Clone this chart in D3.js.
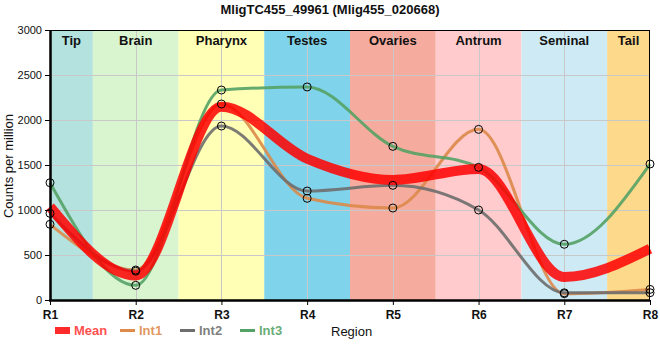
<!DOCTYPE html>
<html><head><meta charset="utf-8">
<script src="https://cdn.jsdelivr.net/npm/d3@7"></script>
<style>body{margin:0;background:#fff}svg{display:block;font-family:"Liberation Sans",Arial,sans-serif}</style>
</head><body>
<svg id="c" width="660" height="360"></svg>
<script>
const regions = ["R1","R2","R3","R4","R5","R6","R7","R8"];
const tissues = ["Tip","Brain","Pharynx","Testes","Ovaries","Antrum","Seminal","Tail"];
const tissueColors = ["#b4e2de","#d8f5cf","#ffffb5","#7fd3ea","#f5ab9d","#ffcbcc","#ceebf5","#fdd98b"];
const int1 = [841, 333, 2178, 1130, 1022, 1896, 70, 118];
const int2 = [963, 320, 1933, 1211, 1274, 1000, 80, 81];
const int3 = [1303, 163, 2333, 2367, 1707, 1474, 619, 1511];
const meanVals = regions.map((r,i)=> (int1[i]+int2[i]+int3[i])/3);
const yTicks = [0,500,1000,1500,2000,2500,3000];
const title = "MligTC455_49961 (Mlig455_020668)";

const svg = d3.select("#c");
const L=50,R=650,T=30,B=300;
const x = d3.scalePoint().domain(regions).range([L,R]);
const y = d3.scaleLinear().domain([0,3000]).range([B,T]);
const step = x.step();

// bands
svg.append("g").selectAll("rect").data(tissues).join("rect")
  .attr("x",(d,i)=>Math.max(L,x(regions[i])-step/2))
  .attr("width",(d,i)=>Math.min(R,x(regions[i])+step/2)-Math.max(L,x(regions[i])-step/2))
  .attr("y",T).attr("height",B-T)
  .attr("fill",(d,i)=>tissueColors[i]);

// grid
const g = svg.append("g").attr("stroke","#c8c8c8").attr("stroke-width",1);
g.selectAll("line.h").data(yTicks.slice(1)).join("line").attr("class","h")
  .attr("x1",L).attr("x2",R).attr("y1",d=>y(d)+0.5).attr("y2",d=>y(d)+0.5);
g.selectAll("line.v").data(regions.slice(1,-1)).join("line").attr("class","v")
  .attr("y1",T).attr("y2",B).attr("x1",d=>Math.round(x(d))+0.5).attr("x2",d=>Math.round(x(d))+0.5);

// band labels
svg.append("g").selectAll("text").data(tissues).join("text")
  .attr("x",(d,i)=>(Math.max(L,x(regions[i])-step/2)+Math.min(R,x(regions[i])+step/2))/2)
  .attr("y",45).attr("text-anchor","middle").attr("font-size",13).attr("font-weight","bold")
  .attr("fill","#111").text(d=>d);

const line = d3.line().x((d,i)=>x(regions[i])).y(d=>y(d)).curve(d3.curveMonotoneX);
const series = [
  {name:"Int1",vals:int1,color:"#dd8a4a"},
  {name:"Int2",vals:int2,color:"#6e6e6e"},
  {name:"Int3",vals:int3,color:"#55a266"}
];
series.forEach(s=>{
  svg.append("path").attr("d",line(s.vals)).attr("fill","none")
    .attr("stroke",s.color).attr("stroke-width",3).attr("stroke-opacity",0.9);
});
svg.append("path").attr("d",line(meanVals)).attr("fill","none")
  .attr("stroke","#ff0000").attr("stroke-width",10).attr("stroke-opacity",0.85);
series.forEach(s=>{
  svg.append("g").selectAll("circle").data(s.vals).join("circle")
    .attr("cx",(d,i)=>x(regions[i])).attr("cy",d=>y(d)).attr("r",4)
    .attr("fill","none").attr("stroke","#000").attr("stroke-width",1);
});

// frame
svg.append("line").attr("x1",L).attr("x2",R).attr("y1",T+0.5).attr("y2",T+0.5).attr("stroke","#000").attr("stroke-width",1);
svg.append("line").attr("x1",R-0.5).attr("x2",R-0.5).attr("y1",T).attr("y2",B).attr("stroke","#000").attr("stroke-width",1);

// axes
const ya = svg.append("g").attr("transform",`translate(${L},0)`)
  .call(d3.axisLeft(y).tickValues(yTicks).tickSize(5).tickSizeOuter(0).tickFormat(d3.format("d")));
ya.select(".domain").attr("stroke-width",2.5);
ya.selectAll("text").attr("font-size",11).attr("fill","#111").attr("font-family","Liberation Sans, Arial, sans-serif");
const xa = svg.append("g").attr("transform",`translate(0,${B})`)
  .call(d3.axisBottom(x).tickSize(5).tickSizeOuter(0));
xa.select(".domain").attr("stroke-width",2.5).attr("d",`M${L-1},0.5H${R}`);
xa.selectAll("text").attr("font-size",12).attr("font-weight","bold").attr("fill","#111").attr("dy","0.9em").attr("font-family","Liberation Sans, Arial, sans-serif");

// title
svg.append("text").attr("x",330).attr("y",14).attr("text-anchor","middle")
  .attr("font-size",13).attr("font-weight","bold").attr("fill","#111").text(title);
// y label
svg.append("text").attr("transform","translate(13,166) rotate(-90)").attr("text-anchor","middle")
  .attr("font-size",13).attr("fill","#111").text("Counts per million");

// legend
const lg = svg.append("g");
lg.append("rect").attr("x",55).attr("y",327).attr("width",15).attr("height",7).attr("fill","#ff2a2a");
lg.append("text").attr("x",74).attr("y",335).attr("font-size",13).attr("font-weight","bold").attr("fill","#ff5050").text("Mean");
const lx=[120,180,240];
series.forEach((s,i)=>{
  lg.append("line").attr("x1",lx[i]).attr("x2",lx[i]+15).attr("y1",330.5).attr("y2",330.5).attr("stroke",s.color).attr("stroke-width",3);
  lg.append("text").attr("x",lx[i]+19).attr("y",335).attr("font-size",13).attr("font-weight","bold").attr("fill",s.color).attr("fill-opacity",0.9).text(s.name);
});
lg.append("text").attr("x",331).attr("y",336).attr("font-size",13).attr("fill","#111").text("Region");
</script>
</body></html>
